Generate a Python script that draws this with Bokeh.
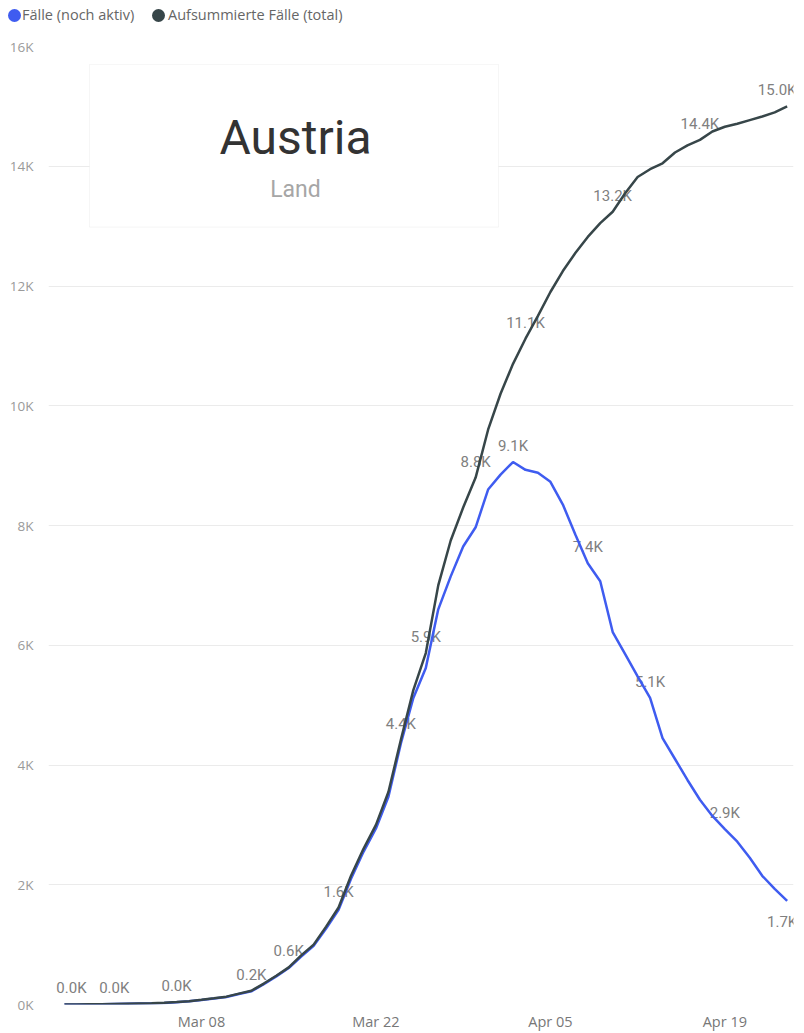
import pandas as pd
from bokeh.plotting import figure
from bokeh.layouts import column
from bokeh.models import (ColumnDataSource, Range1d, FixedTicker, DatetimeTickFormatter,
                          PrintfTickFormatter, BoxAnnotation, Label, Div)
from bokeh.embed import file_html
from bokeh.resources import INLINE
from bokeh.core.properties import value

# ---------------- data (values in thousands) ----------------
dates = pd.date_range("2020-02-26", "2020-04-24", freq="D")

total_k = [0.002, 0.002, 0.003, 0.003, 0.009, 0.014, 0.018, 0.021, 0.029, 0.041,
           0.055, 0.079, 0.104, 0.131, 0.182, 0.23, 0.35, 0.48, 0.62, 0.82,
           1.0, 1.3, 1.62, 2.15, 2.6, 3.0, 3.55, 4.42, 5.25, 5.87,
           7.0, 7.75, 8.3, 8.8, 9.6, 10.2, 10.7, 11.12, 11.5, 11.9,
           12.25, 12.55, 12.82, 13.05, 13.24, 13.55, 13.82, 13.95, 14.05, 14.23,
           14.35, 14.44, 14.58, 14.66, 14.71, 14.77, 14.83, 14.9, 15.0]

active_k = [0.002, 0.002, 0.003, 0.003, 0.009, 0.014, 0.018, 0.021, 0.027, 0.039,
            0.053, 0.077, 0.102, 0.126, 0.176, 0.22, 0.34, 0.47, 0.61, 0.80,
            0.98, 1.27, 1.58, 2.1, 2.55, 2.94, 3.47, 4.36, 5.12, 5.62,
            6.6, 7.15, 7.65, 7.97, 8.6, 8.85, 9.06, 8.93, 8.88, 8.73,
            8.35, 7.85, 7.37, 7.07, 6.22, 5.85, 5.48, 5.12, 4.45, 4.1,
            3.75, 3.42, 3.15, 2.93, 2.72, 2.45, 2.15, 1.93, 1.73]

total_label_dates = ["2020-02-26", "2020-03-01", "2020-03-06", "2020-03-12", "2020-03-15",
                     "2020-03-19", "2020-03-24", "2020-03-26", "2020-03-30", "2020-04-03",
                     "2020-04-10", "2020-04-17", "2020-04-24"]
active_label_dates = ["2020-04-02", "2020-04-08", "2020-04-13", "2020-04-19", "2020-04-24"]

x_tick_dates = ["2020-03-08", "2020-03-22", "2020-04-05", "2020-04-19"]
y_ticks = [0, 2, 4, 6, 8, 10, 12, 14, 16]

series_names = ["Fälle (noch aktiv)", "Aufsummierte Fälle (total)"]
card_title = "Austria"
card_subtitle = "Land"

# ---------------- styling / geometry ----------------
BLUE = "#3f5cf0"
DARK = "#374649"
W = 804
LEG_H = 30                      # legend strip height
H = 1033 - LEG_H                # main chart height
FL, FT, FW, FH = 48, 16, 745, 960   # frame left/top/width/height inside main figure
MS_DAY = 86400000.0
ref_ms = pd.Timestamp("2020-03-08").value / 1e6
xs_ms = ref_ms - 12.28 * MS_DAY
xe_ms = ref_ms + 47.51 * MS_DAY


def page_x(px):
    return xs_ms + (px - FL) / FW * (xe_ms - xs_ms)


def page_y(py):
    return 16.0 * (1 - (py - LEG_H - FT) / FH)


# ---------------- legend strip (HTML) ----------------
leg_colors = [BLUE, DARK]
leg_marker_left = [8, 152]
leg_text_left = [22, 168]
parts = []
for name, col, mx, tx in zip(series_names, leg_colors, leg_marker_left, leg_text_left):
    parts.append(f'<span style="position:absolute;left:{mx}px;top:9px;width:13px;height:13px;'
                 f'border-radius:50%;background:{col};"></span>')
    parts.append(f'<span style="position:absolute;left:{tx}px;top:0;line-height:30px;'
                 f'white-space:nowrap;">{name}</span>')
leg_html = ('<div style="position:relative;width:%dpx;height:%dpx;font-family:\'Open Sans\','
            'sans-serif;font-size:14.5px;color:#666666;">%s</div>' % (W, LEG_H, "".join(parts)))
leg = Div(text=leg_html, width=W, height=LEG_H, margin=(0, 0, 0, 0))

# ---------------- main chart ----------------
p = figure(width=W, height=H, x_axis_type="datetime",
           x_range=Range1d(xs_ms, xe_ms), y_range=Range1d(0, 16),
           min_border_left=FL, min_border_right=W - FL - FW,
           min_border_top=FT, min_border_bottom=H - FT - FH,
           output_backend="svg", toolbar_location=None)
p.outline_line_color = None
p.background_fill_color = "white"
p.border_fill_color = "white"

p.xgrid.grid_line_color = None
p.ygrid.grid_line_color = "#ebebeb"
p.ygrid.grid_line_width = 1

p.yaxis.ticker = FixedTicker(ticks=y_ticks)
p.yaxis.formatter = PrintfTickFormatter(format="%dK")
p.xaxis.ticker = FixedTicker(ticks=[pd.Timestamp(d).value / 1e6 for d in x_tick_dates])
fmt = "%b %d"
p.xaxis.formatter = DatetimeTickFormatter(days=fmt, months=fmt, hours=fmt, years=fmt,
                                          hourmin=fmt, minutes=fmt)
for ax in (p.xaxis, p.yaxis):
    ax.axis_line_color = None
    ax.major_tick_line_color = None
    ax.minor_tick_line_color = None
    ax.major_tick_out = 0
    ax.major_tick_in = 0
    ax.major_label_text_font = "Open Sans"
p.yaxis.major_label_text_font_size = "13.5px"
p.yaxis.major_label_text_color = "#9a9a9a"
p.yaxis.major_label_standoff = 15
p.xaxis.major_label_text_font_size = "14.5px"
p.xaxis.major_label_text_color = "#777777"
p.xaxis.major_label_standoff = 7

# ---------------- card ----------------
card = BoxAnnotation(left=page_x(89), right=page_x(498), top=page_y(64), bottom=page_y(227),
                     fill_color="white", fill_alpha=1.0, line_color="#e2e2e2", line_width=1)
p.add_layout(card)
p.add_layout(Label(x=page_x(295), y=page_y(137), text=card_title, text_align="center",
                   text_baseline="middle", text_font="Roboto", text_font_size="48px",
                   text_color="#333333"))
p.add_layout(Label(x=page_x(295), y=page_y(189), text=card_subtitle, text_align="center",
                   text_baseline="middle", text_font="Roboto", text_font_size="23px",
                   text_color="#a6a6a6"))

# ---------------- data labels ----------------
idx = {d: i for i, d in enumerate(dates)}
lx, ly, lt, xo, yo = [], [], [], [], []
for d in total_label_dates:
    ts = pd.Timestamp(d)
    v = total_k[idx[ts]]
    lx.append(ts); ly.append(v); lt.append(f"{v:.1f}K"); xo.append(0); yo.append(-16)
for d in active_label_dates:
    ts = pd.Timestamp(d)
    v = active_k[idx[ts]]
    lx.append(ts); ly.append(v); lt.append(f"{v:.1f}K"); xo.append(0); yo.append(-16)
xo[0] = 7                               # first label pushed inside plot
xo[len(total_label_dates) - 1] = -10    # last total label
xo[-1] = -5; yo[-1] = 21                # last active label below line
lab_src = ColumnDataSource(dict(x=lx, y=ly, text=lt, xo=xo, yo=yo))
p.text(x="x", y="y", text="text", x_offset="xo", y_offset="yo", source=lab_src,
       text_align="center", text_baseline="middle", text_font=value("Roboto"),
       text_font_size="15px", text_color="#808080")

# ---------------- lines ----------------
p.line(dates, active_k, line_width=2.5, color=BLUE)
p.line(dates, total_k, line_width=2.5, color=DARK)

layout = column(leg, p, spacing=0)
open("out.html", "w").write(file_html(layout, INLINE))
